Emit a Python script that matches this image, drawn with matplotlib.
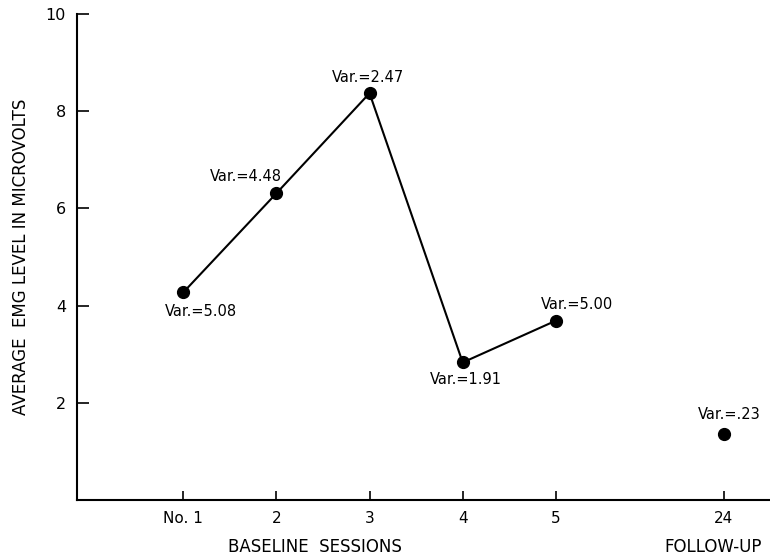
import matplotlib
matplotlib.use("Agg")
import matplotlib.pyplot as plt

# baseline sessions + follow-up
sessions = ["No. 1", "2", "3", "4", "5", "24"]
positions = [1, 2, 3, 4, 5, 6.8]
emg = [4.27, 6.31, 8.37, 2.83, 3.69, 1.35]
variances = ["Var.=5.08", "Var.=4.48", "Var.=2.47", "Var.=1.91", "Var.=5.00", "Var.=.23"]
# label offsets (points) relative to each dot
offsets = [(13, -14), (-22, 12), (-1, 11), (2, -12), (15, 12), (4, 14)]
baseline_n = 5

plt.rcParams['font.family'] = ['DejaVu Sans']

fig = plt.figure(figsize=(7.7, 5.57), dpi=100)
ax = fig.add_axes([0.1, 0.1023, 0.899, 0.8726])

ax.plot(positions[:baseline_n], emg[:baseline_n], color='black', lw=1.5,
        marker='o', markersize=8.5, zorder=3)
ax.plot(positions[baseline_n:], emg[baseline_n:], color='black', lw=0,
        marker='o', markersize=8.5, zorder=3)

for x, y, txt, (dx, dy) in zip(positions, emg, variances, offsets):
    ax.annotate(txt, (x, y), xytext=(dx, dy), textcoords='offset points',
                ha='center', va='center', fontsize=10.5)

ax.set_xlim(-0.14, 7.29)
ax.set_ylim(0, 10)
ax.set_xticks(positions)
ax.set_xticklabels(sessions, fontsize=11)
ax.set_yticks([2, 4, 6, 8, 10])
ax.set_yticklabels(["2", "4", "6", "8", "10"], fontsize=11.5)
ax.tick_params(axis='y', direction='in', length=8.5, width=1.2, pad=8)
ax.tick_params(axis='x', direction='in', length=6.5, width=1.2, pad=8)

for side in ['top', 'right']:
    ax.spines[side].set_visible(False)
for side in ['left', 'bottom']:
    ax.spines[side].set_linewidth(1.5)

ax.set_ylabel("AVERAGE  EMG LEVEL IN MICROVOLTS", fontsize=12, labelpad=11)
fig.text(315 / 770, 1 - 547 / 557, "BASELINE  SESSIONS", ha='center', va='center', fontsize=12)
fig.text(713 / 770, 1 - 547 / 557, "FOLLOW-UP", ha='center', va='center', fontsize=12)

fig.savefig("out.png", dpi=100)
